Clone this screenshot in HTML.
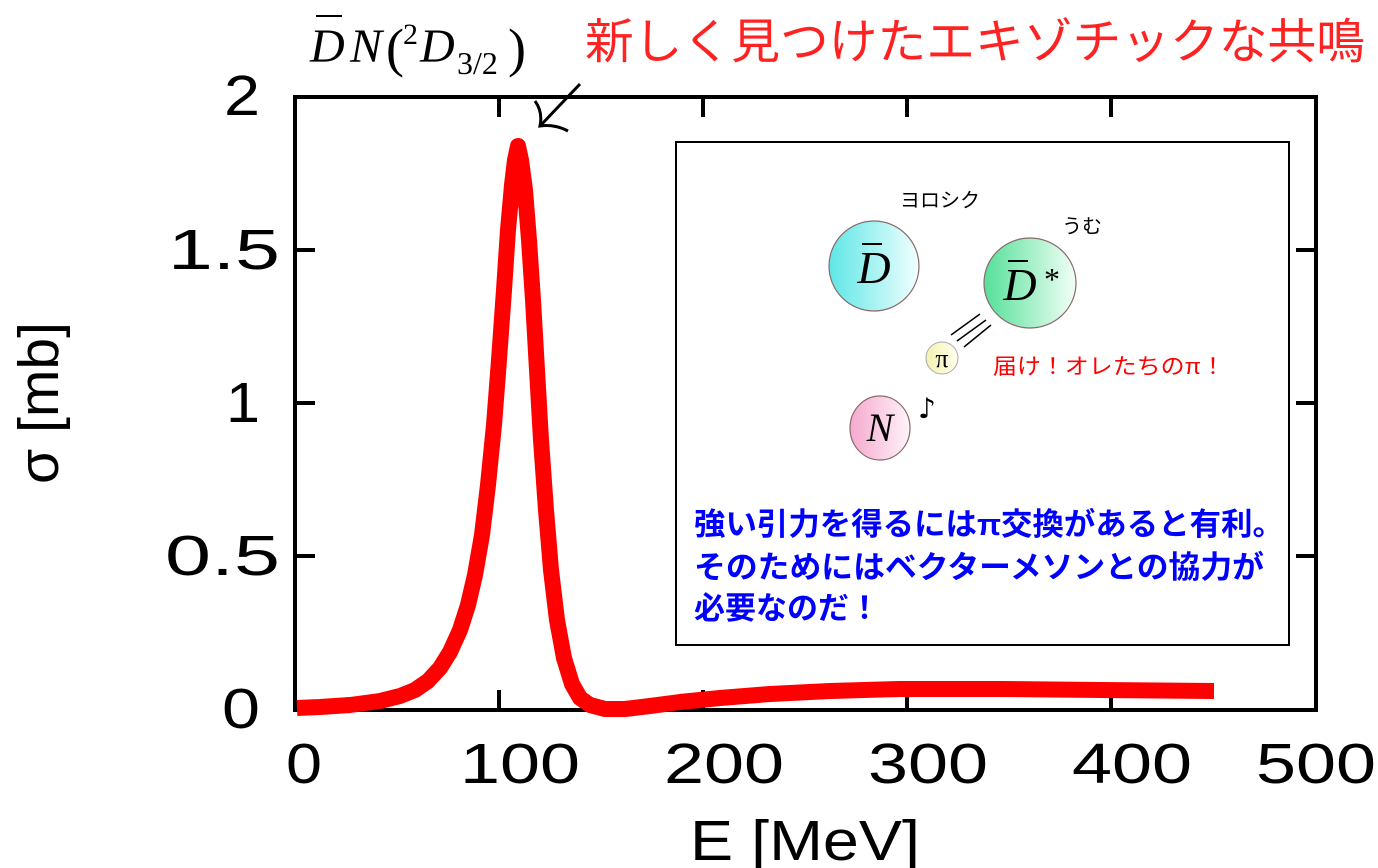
<!DOCTYPE html>
<html><head><meta charset="utf-8"><style>
html,body{margin:0;padding:0;background:#fff;}
svg{display:block;}
.t{font-family:"Liberation Sans",sans-serif;font-size:57px;fill:#000;}
.jp{font-family:"Liberation Sans","Noto Sans CJK JP",sans-serif;}
.m{font-family:"Liberation Serif",serif;font-style:italic;}
</style></head><body>
<svg width="1378" height="868" viewBox="0 0 1378 868" xmlns="http://www.w3.org/2000/svg">
<defs>
<linearGradient id="gc" x1="0" x2="1"><stop offset="0" stop-color="#5ee6e6"/><stop offset="1" stop-color="#f2ffff"/></linearGradient>
<linearGradient id="gg" x1="0" x2="1"><stop offset="0" stop-color="#55e09a"/><stop offset="1" stop-color="#f2fff6"/></linearGradient>
<linearGradient id="gp" x1="0" x2="1"><stop offset="0" stop-color="#f5a9cf"/><stop offset="1" stop-color="#fff3f9"/></linearGradient>
<linearGradient id="gy" x1="0" x2="1"><stop offset="0" stop-color="#f4f2b0"/><stop offset="1" stop-color="#fffff0"/></linearGradient>
</defs>
<g stroke="#000" stroke-width="4">
<line x1="499" y1="97" x2="499" y2="117"/><line x1="703" y1="97" x2="703" y2="117"/><line x1="907" y1="97" x2="907" y2="117"/><line x1="1111" y1="97" x2="1111" y2="117"/>
<line x1="499" y1="710" x2="499" y2="690"/><line x1="703" y1="710" x2="703" y2="690"/><line x1="907" y1="710" x2="907" y2="690"/><line x1="1111" y1="710" x2="1111" y2="690"/>
<line x1="295" y1="556" x2="315" y2="556"/><line x1="295" y1="403" x2="315" y2="403"/><line x1="295" y1="250" x2="315" y2="250"/>
<line x1="1316" y1="556" x2="1296" y2="556"/><line x1="1316" y1="403" x2="1296" y2="403"/><line x1="1316" y1="250" x2="1296" y2="250"/>
</g>
<rect x="295" y="97" width="1021" height="613" fill="none" stroke="#000" stroke-width="4"/>
<polyline fill="none" stroke="#f00" stroke-width="16" stroke-linejoin="round" points="297,708 320,707 350,705 380,701 400,696 415,690 428,681 440,668 450,652 460,630 468,605 475,575 482,535 488,485 494,425 499,360 504,290 508,230 512,185 515,160 518,146 521,160 525,190 529,240 533,300 537,370 541,440 546,510 551,570 557,620 564,658 572,684 580,698 590,705 605,709 625,709 650,706 680,702 720,698 770,694 830,691 900,689 1000,689 1100,690 1214,691"/>
<rect x="676" y="142" width="613" height="503" fill="#fff" stroke="#000" stroke-width="2"/>
<ellipse cx="874" cy="266" rx="45" ry="45" fill="url(#gc)" stroke="#8a6a6a" stroke-width="1.2"/>
<ellipse cx="1030" cy="283" rx="46" ry="45" fill="url(#gg)" stroke="#8a6a6a" stroke-width="1.2"/>
<ellipse cx="942" cy="358" rx="16" ry="16" fill="url(#gy)" stroke="#aaa" stroke-width="1"/>
<ellipse cx="880" cy="428" rx="30" ry="32" fill="url(#gp)" stroke="#8a6a6a" stroke-width="1.2"/>
<text x="874" y="283" class="m" font-size="46" text-anchor="middle">D</text>
<line x1="862" y1="244" x2="882" y2="244" stroke="#000" stroke-width="2"/>
<text x="1020" y="300" class="m" font-size="46" text-anchor="middle">D</text>
<line x1="1008" y1="261" x2="1028" y2="261" stroke="#000" stroke-width="2"/>
<text x="1044" y="290" font-family="Liberation Serif,serif" font-size="32">*</text>
<text x="942" y="367" font-family="Liberation Serif,serif" font-size="26" text-anchor="middle">π</text>
<text x="880" y="441" class="m" font-size="40" text-anchor="middle">N</text>
<g stroke="#000" stroke-width="1.5"><line x1="951" y1="335" x2="980" y2="314"/><line x1="957" y1="341" x2="986" y2="320"/><line x1="964" y1="347" x2="991" y2="325"/></g>
<text x="900" y="207" class="jp" font-size="20">ヨロシク</text>
<text x="1062" y="233" class="jp" font-size="20">うむ</text>
<text x="993" y="374" class="jp" font-size="22" fill="#f00" textLength="232" lengthAdjust="spacingAndGlyphs">届け！オレたちのπ！</text>
<text x="918" y="418" font-family="DejaVu Sans,sans-serif" font-size="28">♪</text>
<g class="jp" font-size="31" fill="#0000ff" font-weight="bold">
<text x="694" y="535" textLength="590" lengthAdjust="spacingAndGlyphs">強い引力を得るにはπ交換があると有利。</text>
<text x="694" y="578" textLength="570" lengthAdjust="spacingAndGlyphs">そのためにはベクターメソンとの協力が</text>
<text x="694" y="619">必要なのだ！</text>
</g>
<g class="t">
<text x="222" y="728" textLength="38" lengthAdjust="spacingAndGlyphs">0</text>
<text x="165" y="575" textLength="115" lengthAdjust="spacingAndGlyphs">0.5</text>
<text x="226" y="422" textLength="34" lengthAdjust="spacingAndGlyphs">1</text>
<text x="168" y="269" textLength="112" lengthAdjust="spacingAndGlyphs">1.5</text>
<text x="224" y="115" textLength="36" lengthAdjust="spacingAndGlyphs">2</text>
<text x="286" y="783" textLength="36" lengthAdjust="spacingAndGlyphs">0</text>
<text x="460" y="783" textLength="120" lengthAdjust="spacingAndGlyphs">100</text>
<text x="664" y="783" textLength="120" lengthAdjust="spacingAndGlyphs">200</text>
<text x="868" y="783" textLength="120" lengthAdjust="spacingAndGlyphs">300</text>
<text x="1072" y="783" textLength="120" lengthAdjust="spacingAndGlyphs">400</text>
<text x="1256" y="783" textLength="120" lengthAdjust="spacingAndGlyphs">500</text>
</g>
<text x="690" y="860" class="t" font-size="54" textLength="230" lengthAdjust="spacingAndGlyphs">E [MeV]</text>
<text transform="translate(58,403) rotate(-90)" class="t" text-anchor="middle" font-size="52">σ [mb]</text>
<text x="585" y="58" class="jp" font-size="48" fill="#f22" textLength="780" lengthAdjust="spacingAndGlyphs">新しく見つけたエキゾチックな共鳴</text>
<g class="m" font-size="48">
<text x="310" y="62">D</text>
<text x="350" y="62">N</text>
<text x="386" y="66" font-style="normal" font-size="54">(</text>
<text x="403" y="44" font-style="normal" font-size="30">2</text>
<text x="420" y="62">D</text>
<text x="457" y="74" font-style="normal" font-size="32">3/2</text>
<text x="508" y="66" font-style="normal" font-size="54">)</text>
</g>
<line x1="316" y1="16" x2="342" y2="16" stroke="#000" stroke-width="2"/>
<g stroke="#000" stroke-width="3" fill="none">
<line x1="580" y1="84" x2="540" y2="126"/>
<path d="M535,101 Q543,112 540,126 Q555,124 568,131"/>
</g>
</svg>
</body></html>
